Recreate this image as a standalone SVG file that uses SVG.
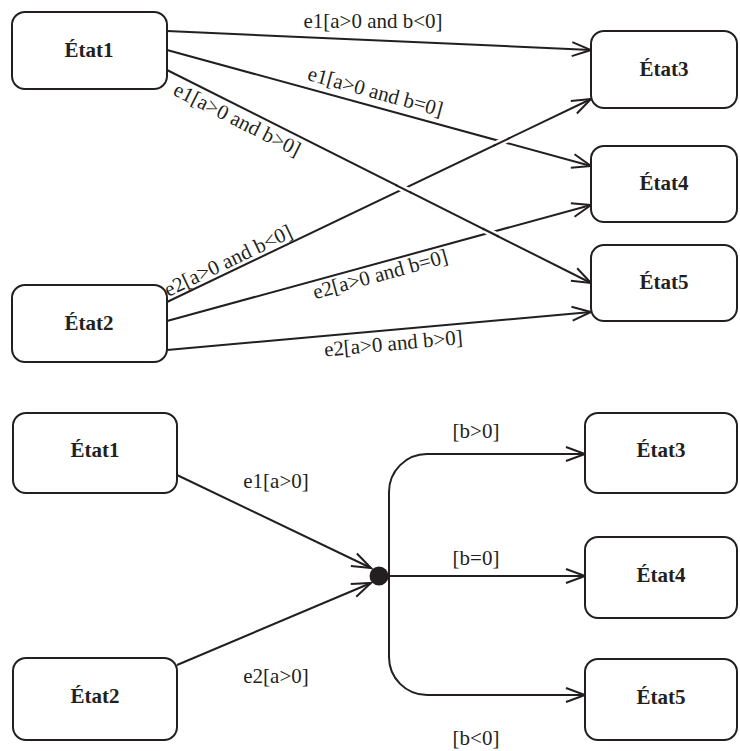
<svg xmlns="http://www.w3.org/2000/svg" width="740" height="751" viewBox="0 0 740 751">
<defs>
<style>
.box{fill:#fff;stroke:#231f20;stroke-width:2}
.lbl{font-family:"Liberation Serif","Times New Roman",serif;font-size:21px;font-weight:bold;fill:#231f20;text-anchor:middle}
.elbl{font-family:"Liberation Serif","Times New Roman",serif;font-size:21px;fill:#231f20;text-anchor:middle}
.ln{fill:none;stroke:#231f20;stroke-width:2}
.gap{fill:none;stroke:#fff;stroke-width:7}
</style>
<marker id="arr" markerUnits="userSpaceOnUse" markerWidth="24" markerHeight="20" refX="19" refY="8" orient="auto" overflow="visible">
<path d="M0,1 L19,8 L0,15" fill="none" stroke="#231f20" stroke-width="2"/>
</marker>
</defs>
<rect width="740" height="751" fill="#fff"/>

<g id="connectors">
<!-- top diagram -->
<line class="ln" x1="167" y1="31" x2="591" y2="50" marker-end="url(#arr)"/>
<line class="ln" x1="167" y1="50" x2="591" y2="166" marker-end="url(#arr)"/>
<line class="ln" x1="167" y1="70" x2="591" y2="283" marker-end="url(#arr)"/>
<line class="ln" x1="167" y1="302" x2="591" y2="99" marker-end="url(#arr)"/>
<line class="ln" x1="167" y1="321" x2="591" y2="205" marker-end="url(#arr)"/>
<line class="ln" x1="167" y1="350" x2="591" y2="312" marker-end="url(#arr)"/>
<!-- crossing gaps -->
<line class="gap" x1="495.7" y1="144.7" x2="508.3" y2="138.7"/>
<line class="ln" x1="493.9" y1="145.6" x2="510.1" y2="137.8"/>
<line class="gap" x1="397.2" y1="185.7" x2="409.7" y2="191.9"/>
<line class="ln" x1="395.4" y1="184.8" x2="411.4" y2="192.8"/>
<line class="gap" x1="484.2" y1="229.4" x2="496.7" y2="235.6"/>
<line class="ln" x1="482.5" y1="228.5" x2="498.5" y2="236.5"/>

<text class="elbl" x="373" y="28">e1[a&gt;0 and b&lt;0]</text>
<text class="elbl" transform="translate(167,50) rotate(15.3)" x="212" y="-8">e1[a&gt;0 and b=0]</text>
<text class="elbl" transform="translate(167,70) rotate(26.67)" x="85" y="19.5">e1[a&gt;0 and b&gt;0]</text>
<text class="elbl" transform="translate(167,302) rotate(-25.59)" x="73" y="-4">e2[a&gt;0 and b&lt;0]</text>
<text class="elbl" transform="translate(167,321) rotate(-15.3)" x="218" y="18">e2[a&gt;0 and b=0]</text>
<text class="elbl" transform="translate(167,350) rotate(-5.12)" x="226" y="20.5">e2[a&gt;0 and b&gt;0]</text>

<!-- bottom diagram -->
<line class="ln" x1="177" y1="475" x2="371" y2="568" marker-end="url(#arr)"/>
<line class="ln" x1="177" y1="665" x2="371" y2="583" marker-end="url(#arr)"/>
<path class="ln" d="M389,576 V492 A38,38 0 0 1 427,454 H585" marker-end="url(#arr)"/>
<path class="ln" d="M389,576 H585" marker-end="url(#arr)"/>
<path class="ln" d="M389,576 V657 A38,38 0 0 0 427,695 H585" marker-end="url(#arr)"/>
<text class="elbl" x="276" y="488">e1[a&gt;0]</text>
<text class="elbl" x="276" y="683">e2[a&gt;0]</text>
<text class="elbl" x="476" y="438">[b&gt;0]</text>
<text class="elbl" x="476" y="565">[b=0]</text>
<text class="elbl" x="476" y="745">[b&lt;0]</text>
</g>

<g id="top-etat1"><rect class="box" x="12" y="12" width="155" height="77" rx="13"/><text class="lbl" x="89" y="57">État1</text></g>
<g id="top-etat2"><rect class="box" x="12" y="285" width="155" height="77" rx="13"/><text class="lbl" x="89" y="330">État2</text></g>
<g id="top-etat3"><rect class="box" x="591" y="31" width="146" height="77" rx="13"/><text class="lbl" x="664" y="76">État3</text></g>
<g id="top-etat4"><rect class="box" x="591" y="146" width="146" height="76" rx="13"/><text class="lbl" x="664" y="190">État4</text></g>
<g id="top-etat5"><rect class="box" x="591" y="245" width="146" height="76" rx="13"/><text class="lbl" x="664" y="289">État5</text></g>

<g id="bot-etat1"><rect class="box" x="13" y="413" width="164" height="80" rx="13"/><text class="lbl" x="95" y="457">État1</text></g>
<g id="bot-etat2"><rect class="box" x="13" y="658" width="164" height="82" rx="13"/><text class="lbl" x="95" y="703">État2</text></g>
<g id="bot-etat3"><rect class="box" x="585" y="413" width="152" height="80" rx="13"/><text class="lbl" x="661" y="457">État3</text></g>
<g id="bot-etat4"><rect class="box" x="585" y="537" width="152" height="81" rx="13"/><text class="lbl" x="661" y="582">État4</text></g>
<g id="bot-etat5"><rect class="box" x="585" y="659" width="152" height="81" rx="13"/><text class="lbl" x="661" y="704">État5</text></g>

<g id="junction"><circle cx="379" cy="576" r="9.5" fill="#231f20"/></g>
</svg>
